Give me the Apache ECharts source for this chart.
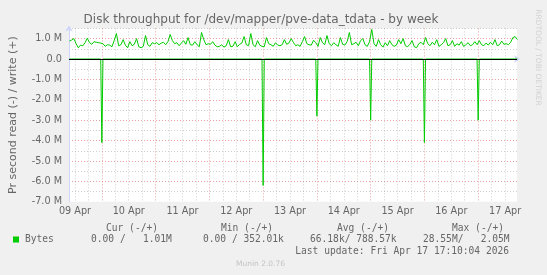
<!DOCTYPE html>
<html><head><meta charset="utf-8">
<script src="https://cdn.jsdelivr.net/npm/echarts@6/dist/echarts.min.js"></script>
<style>html,body{margin:0;padding:0;background:#f0f0f0}#c{width:547px;height:275px}</style>
</head><body><div id="c"></div>
<script>
// ---- data (hours counted from 09 Apr 00:00; values in MB/s) ----
const titleText = 'Disk throughput for /dev/mapper/pve-data_tdata - by week';
const yAxisName = 'Pr second read (-) / write (+)';
const xRange = [9 + 1/3, 209 + 1/3];
const yRange = [-7, 1.5];

const dayLabels = ['09 Apr','10 Apr','11 Apr','12 Apr','13 Apr','14 Apr','15 Apr','16 Apr','17 Apr'];
const dayLabelHours = [12, 36, 60, 84, 108, 132, 156, 180, 204];
const majorXHours = [24, 48, 72, 96, 120, 144, 168, 192];
const minorXHours = [12, 18, 30, 36, 42, 54, 60, 66, 78, 84, 90, 102, 108, 114, 126, 132, 138, 150, 156, 162, 174, 180, 186, 198, 204];

const yLabelValues = [-7, -6, -5, -4, -3, -2, -1, 0, 1];
const yLabelTexts = ['-7.0 M','-6.0 M','-5.0 M','-4.0 M','-3.0 M','-2.0 M','-1.0 M','0.0','1.0 M'];
const yMajorLines = [-6, -5, -4, -3, -2, -1, 0, 1];
const yMinorLines = [-6.5, -5.5, -4.5, -3.5, -2.5, -1.5, -0.5, 0.5, 1.5];

// write (+), hourly samples starting at hour 9.5
const writeStartHour = 9.5;
const writeStepHours = 1;
const writeMB = [
  0.88, 0.93, 1.0, 0.75, 0.55, 0.68, 0.65, 0.8, 1.02, 0.8, 0.72, 0.85, 0.82, 0.8, 0.78,
  0.75, 0.62, 0.7, 0.68, 0.6, 0.9, 1.25, 0.65, 0.7, 0.95, 0.68, 0.55, 0.85, 0.65, 0.72, 1.0, 0.6, 0.55, 0.62, 1.15, 0.7, 0.62, 0.8, 0.75,
  0.8, 0.7, 0.78, 0.82, 0.7, 0.85, 1.2, 0.9, 0.75, 0.8, 0.65, 0.78, 0.9, 0.72, 1.05, 0.7, 0.68, 0.85, 0.7, 0.6, 1.3, 0.95, 0.7, 0.75,
  0.72, 0.85, 0.68, 0.6, 0.62, 0.7, 0.58, 0.65, 0.95, 0.6, 0.62, 0.85, 0.6, 0.72, 0.78, 1.1, 0.7, 0.65, 1.25, 0.7, 0.6, 0.9, 0.68, 0.62,
  0.6, 1.05, 0.75, 0.7, 0.62, 0.8, 0.68, 0.65, 0.7, 0.95, 0.72, 0.78, 1.0, 0.82, 0.65, 0.7, 0.62, 0.85, 1.1, 0.75, 0.7, 0.68, 0.92, 0.8,
  0.62, 1.05, 0.8, 0.7, 1.15, 0.75, 0.65, 0.8, 0.7, 0.62, 1.05, 0.72, 0.68, 0.85, 1.3, 0.7, 0.75, 0.82, 0.65, 0.9, 1.0, 0.7, 0.62, 0.85,
  1.45, 0.75, 0.62, 0.95, 0.7, 0.58, 0.8, 0.65, 0.9, 0.7, 0.62, 0.68, 0.95, 0.75, 1.0, 0.65, 0.6, 0.72, 0.9, 0.6, 0.55, 0.75, 0.82, 0.7,
  1.05, 0.75, 0.65, 0.82, 0.7, 0.95, 0.62, 0.7, 0.8, 1.0, 0.65, 0.7, 0.9, 0.62, 0.75, 0.68, 0.85, 0.62, 0.7, 0.8, 0.65, 0.7, 0.85, 0.7,
  0.9, 0.7, 0.65, 0.78, 0.68, 0.82, 0.7, 0.95, 0.65, 0.7, 0.88, 0.72, 0.75, 0.7, 0.82, 1.05, 1.1, 0.95
];

// read (-), sparse samples: zero except nightly spikes
const readHours = [9.5, 23.5, 24, 24.5, 95.5, 96, 96.5, 119.5, 120, 120.5, 143.5, 144, 144.5, 167.5, 168, 168.5, 191.5, 192, 192.5, 209.5];
const readMB =    [0,   0,  -4.1,  0,   0,  -6.2,  0,    0,  -2.8,  0,    0,  -3.0,  0,    0,  -4.1,  0,    0,  -3.0,  0,    0];

const legendHeaders = ['Cur (-/+)', 'Min (-/+)', 'Avg (-/+)', 'Max (-/+)'];
const legendName = 'Bytes';
const legendValues = ['0.00 /   1.01M', '0.00 / 352.01k', '66.18k/ 788.57k', '28.55M/   2.05M'];
const lastUpdate = 'Last update: Fri Apr 17 17:10:04 2026';
const footer = 'Munin 2.0.76';
const watermark = 'RRDTOOL / TOBI OETIKER';

// ---- chart ----
const GREEN = '#00cc00';
const FONT = '#666666';
const AXIS = '#CFD6F8';
const MGRID = 'rgba(225,110,110,0.65)';
const GRID = 'rgba(150,150,150,0.45)';
const dots = [1, 2];

const writeData = writeMB.map((v, i) => [writeStartHour + i * writeStepHours, v]);
const readData = readHours.map((h, i) => [h, readMB[i]]);

const mono = '"DejaVu Sans Mono", monospace';
const sans = '"DejaVu Sans", sans-serif';
const legendHeaderX = [106, 221, 337, 452];
const legendValueX = [91, 203, 310, 423];

const graphics = [
  {type:'text', x:261, y:19.5, style:{text:titleText, font:'12px ' + sans, fill:FONT, align:'center', verticalAlign:'middle', textAlign:'center', textVerticalAlign:'middle'}},
  {type:'text', x:537.5, y:57.5, rotation:-Math.PI/2, style:{text:watermark, font:'7.5px ' + sans, fill:'#d2d2d2', align:'center', verticalAlign:'middle', textAlign:'center', textVerticalAlign:'middle'}},
  {type:'rect', shape:{x:13, y:236.5, width:6, height:6}, style:{fill:GREEN}},
  {type:'text', x:25, y:239.5, style:{text:legendName, font:'9.6px ' + mono, fill:FONT, verticalAlign:'middle', textVerticalAlign:'middle'}},
  {type:'text', x:509, y:251, style:{text:lastUpdate, font:'9.6px ' + mono, fill:FONT, align:'right', verticalAlign:'middle', textAlign:'right', textVerticalAlign:'middle'}},
  {type:'text', x:260.5, y:264.5, style:{text:footer, font:'7.5px ' + sans, fill:'#c4c4c4', align:'center', verticalAlign:'middle', textAlign:'center', textVerticalAlign:'middle'}}
];
legendHeaders.forEach((t, i) => graphics.push({type:'text', x:legendHeaderX[i], y:228, style:{text:t, font:'9.6px ' + mono, fill:FONT, verticalAlign:'middle', textVerticalAlign:'middle'}}));
legendValues.forEach((t, i) => graphics.push({type:'text', x:legendValueX[i], y:239.5, style:{text:t, font:'9.6px ' + mono, fill:FONT, verticalAlign:'middle', textVerticalAlign:'middle'}}));

const chart = echarts.init(document.getElementById('c'), null, {renderer:'canvas'});
chart.setOption({
  animation:false,
  backgroundColor:'#f0f0f0',
  grid:{left:67, right:30, top:28.4, bottom:73.2, show:true, backgroundColor:'#ffffff', borderWidth:0},
  xAxis:[
    {type:'value', min:xRange[0], max:xRange[1], position:'top',
     axisLine:{show:false}, axisLabel:{show:false},
     axisTick:{show:false, customValues:minorXHours},
     splitLine:{show:true, lineStyle:{color:GRID, type:dots, width:1}}},
    {type:'value', min:xRange[0], max:xRange[1], position:'bottom',
     axisLine:{show:true, lineStyle:{color:AXIS, width:1}, symbol:['none','arrow'], symbolSize:[6,6], symbolOffset:[0,3]},
     axisTick:{show:false, customValues:majorXHours},
     splitLine:{show:true, lineStyle:{color:MGRID, type:dots, width:1}},
     axisLabel:{customValues:dayLabelHours, formatter:v => dayLabels[dayLabelHours.indexOf(v)], color:FONT, fontSize:9.7, fontFamily:'DejaVu Sans', margin:5}}
  ],
  yAxis:[
    {type:'value', min:yRange[0], max:yRange[1], position:'right',
     axisLine:{show:false}, axisLabel:{show:false},
     axisTick:{show:false, customValues:yMinorLines},
     splitLine:{show:true, lineStyle:{color:GRID, type:dots, width:1}}},
    {type:'value', min:yRange[0], max:yRange[1], position:'left',
     name:yAxisName, nameLocation:'middle', nameGap:50,
     nameTextStyle:{color:FONT, fontSize:11, fontFamily:'DejaVu Sans'},
     axisLine:{show:true, lineStyle:{color:AXIS, width:1}, symbol:['none','arrow'], symbolSize:[6,6], symbolOffset:[0,3]},
     axisTick:{show:false, customValues:yMajorLines},
     splitLine:{show:true, lineStyle:{color:MGRID, type:dots, width:1}},
     axisLabel:{customValues:yLabelValues, formatter:v => yLabelTexts[yLabelValues.indexOf(v)], color:FONT, fontSize:9.7, fontFamily:'DejaVu Sans', margin:7}}
  ],
  series:[
    {type:'line', name:'read', xAxisIndex:1, yAxisIndex:1, data:readData, showSymbol:false, symbol:'none',
     lineStyle:{color:GREEN, width:1}, z:3,
     markLine:{silent:true, symbol:['none','none'], label:{show:false}, lineStyle:{color:'#000000', width:1.2, type:'solid'}, data:[{yAxis:0}], z:5}},
    {type:'line', name:'write', xAxisIndex:1, yAxisIndex:1, data:writeData, showSymbol:false, symbol:'none',
     lineStyle:{color:GREEN, width:1}, z:3}
  ],
  graphic:graphics
});
</script></body></html>
